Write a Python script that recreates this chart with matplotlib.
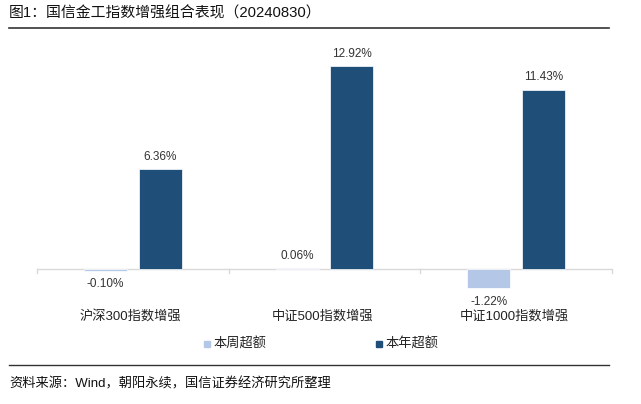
import matplotlib.pyplot as plt
import numpy as np

plt.rcParams['font.family'] = ['Liberation Sans', 'Noto Sans CJK SC']

categories = ['沪深300指数增强', '中证500指数增强', '中证1000指数增强']
week_excess = [-0.10, 0.06, -1.22]
year_excess = [6.36, 12.92, 11.43]
series_names = ['本周超额', '本年超额']
title = '图1：国信金工指数增强组合表现（20240830）'
source = '资料来源：Wind，朝阳永续，国信证券经济研究所整理'

light = '#B4C7E7'
dark = '#1F4E79'

W, H = 641, 404
fig = plt.figure(figsize=(W / 100, H / 100), dpi=100)

# axes placed in pixel terms: zero line at y=269, 15.7 px per 1%
ymin, ymax = -2, 14
px_per = 15.7
top_px = 269 - ymax * px_per
height_px = (ymax - ymin) * px_per
left_px, width_px = 37, 575
ax = fig.add_axes([left_px / W, (H - top_px - height_px) / H, width_px / W, height_px / H])

x = np.arange(len(categories))
bw = 0.224
off = 0.142
ax.bar(x - off, week_excess, bw, color=light, edgecolor='white', linewidth=0.5, zorder=2)
ax.bar(x + off, year_excess, bw, color=dark, edgecolor='white', linewidth=0.5, zorder=2)

ax.set_xlim(-0.5, len(categories) - 0.5)
ax.set_ylim(ymin, ymax)
ax.axhline(0, color='#d9d9d9', lw=1, zorder=1)
for b in np.arange(len(categories) + 1) - 0.5:
    ax.plot([b, b], [0, -0.25], color='#d9d9d9', lw=1, clip_on=False)

for spine in ax.spines.values():
    spine.set_visible(False)
ax.set_yticks([])
ax.set_xticks([])

lab = dict(textcoords='offset points', ha='center', va='center', fontsize=8.5, color='#333333')
for xi, v in zip(x - off, week_excess):
    dy = 9 if v >= 0 else -10
    ax.annotate(f'{v:.2f}%', (xi, v), xytext=(0, dy), **lab)
for xi, v in zip(x + off, year_excess):
    ax.annotate(f'{v:.2f}%', (xi, v), xytext=(0, 9), **lab)

# category labels
cat_w = width_px / len(categories)
for xi, c in zip(x, categories):
    fig.text((left_px + cat_w * (xi + 0.5) - 2) / W, 1 - 316 / H, c, ha='center', va='center',
             fontsize=9.5, color='#222222')

# legend
for sx, col, name in [(207, light, series_names[0]), (379, dark, series_names[1])]:
    fig.patches.append(plt.Rectangle(((sx - 3) / W, 1 - 347 / H), 6 / W, 6 / H,
                                     transform=fig.transFigure, color=col))
    fig.text((sx + 6) / W, 1 - 344 / H, name, ha='left', va='center', fontsize=9.5,
             color='#222222')

# title, rules, source
fig.text(9 / W, 1 - 13 / H, title, ha='left', va='center', fontsize=10.7, color='#111111')
fig.add_artist(plt.Line2D([9 / W, 609 / W], [1 - 28 / H, 1 - 28 / H], color='#333333', lw=1.2))
fig.add_artist(plt.Line2D([9 / W, 609 / W], [1 - 365 / H, 1 - 365 / H], color='#333333', lw=1))
fig.text(9 / W, 1 - 384 / H, source, ha='left', va='center', fontsize=9.5, color='#111111')

fig.savefig('out.png', dpi=100)
